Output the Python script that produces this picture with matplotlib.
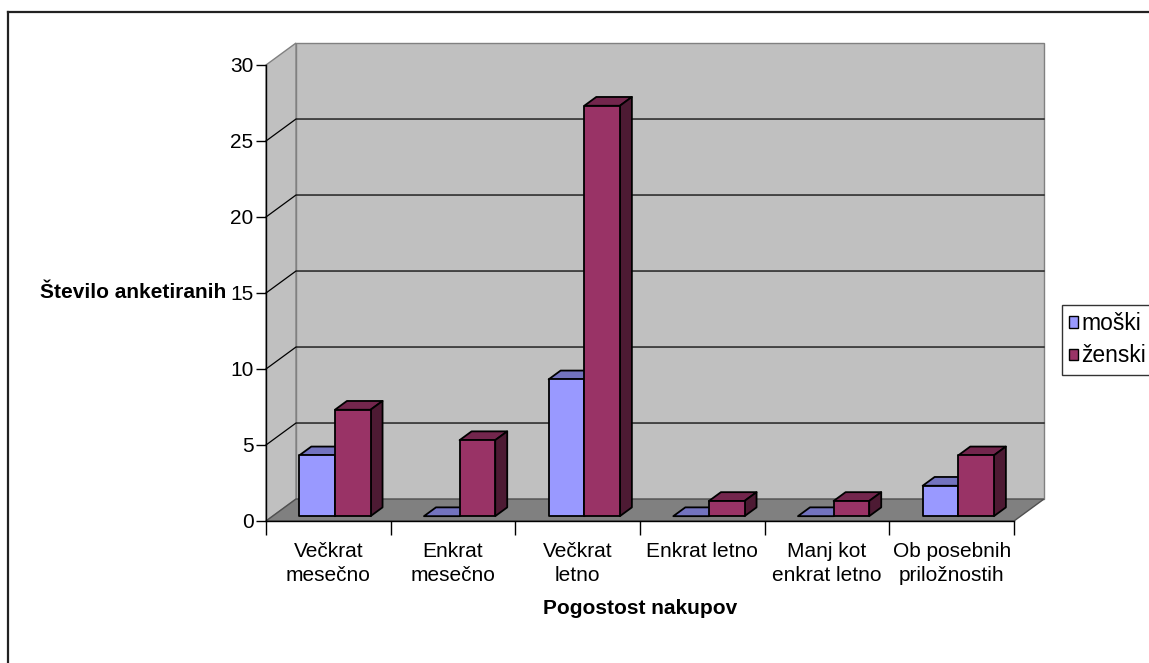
import matplotlib
matplotlib.use("Agg")
import matplotlib.pyplot as plt
from matplotlib.patches import Polygon, Patch
from matplotlib.lines import Line2D

plt.rcParams["font.family"] = ["Liberation Sans", "DejaVu Sans"]

# ---- data ----
categories = ["Večkrat\nmesečno", "Enkrat\nmesečno", "Večkrat\nletno",
              "Enkrat letno", "Manj kot\nenkrat letno", "Ob posebnih\npriložnostih"]
series_names = ["moški", "ženski"]
moski = [4, 0, 9, 0, 0, 2]
zenski = [7, 5, 27, 1, 1, 4]
y_ticks = [0, 5, 10, 15, 20, 25, 30]
y_title = "Število anketiranih"
x_title = "Pogostost nakupov"

# ---- colours ----
WALL = "#C0C0C0"
FLOOR = "#808080"
EDGE = "#808080"
FACES = {
    "moški": ("#9999FF", "#7373BF", "#4D4D80"),
    "ženski": ("#993366", "#73264D", "#4D1A33"),
}

W, H, DPI = 1149, 663, 100
fig = plt.figure(figsize=(W / DPI, H / DPI), dpi=DPI)
fig.patch.set_facecolor("white")

# front plane of the 3D box (pixel rectangle -> figure fraction)
left_px, right_px, top_px, bot_px = 266, 1014, 65, 521
ax = fig.add_axes([left_px / W, 1 - bot_px / H,
                   (right_px - left_px) / W, (bot_px - top_px) / H])
ax.patch.set_alpha(0)
n = len(categories)
ymax = y_ticks[-1]
ax.set_xlim(0, n)
ax.set_ylim(0, ymax)

# depth of the box, as a fraction of the axis spans
DX = 0.0401 * n
DY = 0.0482 * ymax

# back wall, side wall, floor
back = Polygon([(DX, DY), (n + DX, DY), (n + DX, ymax + DY), (DX, ymax + DY)],
               closed=True, fc=WALL, ec=EDGE, lw=1.0, clip_on=False, zorder=0.5)
side = Polygon([(0, 0), (DX, DY), (DX, ymax + DY), (0, ymax)],
               closed=True, fc=WALL, ec=EDGE, lw=1.0, clip_on=False, zorder=0.6)
floor = Polygon([(0, 0), (n, 0), (n + DX, DY), (DX, DY)],
                closed=True, fc=FLOOR, ec="#505050", lw=1.0, clip_on=False, zorder=0.7)
for p in (back, side, floor):
    ax.add_patch(p)

# gridlines across side wall and back wall
for v in y_ticks[1:-1]:
    ax.plot([0, DX, n + DX], [v, v + DY, v + DY], color="black", lw=0.9,
            clip_on=False, zorder=0.8)

# bars
gap = 0.2143
bw = (1 - 2 * gap) / 2
f0, f1 = 0.22, 0.62


def draw_bar(x0, value, name):
    front, top, sidec = FACES[name]
    x1 = x0 + bw
    ax0, ay0 = x0 + f0 * DX, f0 * DY
    ax1 = x1 + f0 * DX
    bx0, bx1, by0 = x0 + f1 * DX, x1 + f1 * DX, f1 * DY
    kw = dict(closed=True, ec="black", lw=1.3, clip_on=False, joinstyle="round")
    ax.add_patch(Polygon([(ax0, ay0 + value), (ax1, ay0 + value),
                          (bx1, by0 + value), (bx0, by0 + value)],
                         fc=top, zorder=2, **kw))
    ax.add_patch(Polygon([(ax1, ay0), (bx1, by0), (bx1, by0 + value),
                          (ax1, ay0 + value)], fc=sidec, zorder=2, **kw))
    if value > 0:
        ax.add_patch(Polygon([(ax0, ay0), (ax1, ay0), (ax1, ay0 + value),
                              (ax0, ay0 + value)], fc=front, zorder=2, **kw))


for i in range(n):
    draw_bar(i + gap, moski[i], "moški")
    draw_bar(i + gap + bw, zenski[i], "ženski")

# axes styling
for s in ("top", "right"):
    ax.spines[s].set_visible(False)
for s in ("left", "bottom"):
    ax.spines[s].set_color("black")
    ax.spines[s].set_linewidth(1.0)
    ax.spines[s].set_zorder(1)

FS = 15
ax.set_yticks(y_ticks)
ax.set_yticklabels([str(t) for t in y_ticks])
ax.tick_params(axis="y", length=7, width=1.0, pad=2, labelsize=FS)

ax.set_xticks(range(n + 1))
ax.set_xticklabels([""] * (n + 1))
ax.set_xticks([i + 0.5 for i in range(n)], minor=True)
ax.set_xticklabels(categories, minor=True, fontsize=FS, linespacing=1.35)
ax.tick_params(axis="x", which="major", length=10, width=1.0)
ax.tick_params(axis="x", which="minor", length=0, pad=15)

ax.set_xlabel(x_title, fontsize=FS, fontweight="bold", labelpad=10)
ax.set_ylabel(y_title, fontsize=FS, fontweight="bold", rotation=0,
              ha="right", va="center", labelpad=3)

# legend box, partly running past the right edge
handles = [Patch(fc=FACES[s][0], ec="black", lw=1.0) for s in series_names]
fig.legend(handles, series_names, loc="upper left",
           bbox_to_anchor=(1062 / W, 1 - 305 / H), frameon=True,
           fancybox=False, edgecolor="black", fontsize=16.5,
           handlelength=0.38, handleheight=0.38, handletextpad=0.15,
           borderpad=0.32, labelspacing=0.4, borderaxespad=0)

# outer chart border
fig.add_artist(Line2D([8 / W, 8 / W], [0, 1 - 12 / H], transform=fig.transFigure,
                      color="#222222", lw=1.6))
fig.add_artist(Line2D([8 / W, 1], [1 - 12 / H, 1 - 12 / H], transform=fig.transFigure,
                      color="#222222", lw=1.6))

fig.savefig("out.png", dpi=DPI)
